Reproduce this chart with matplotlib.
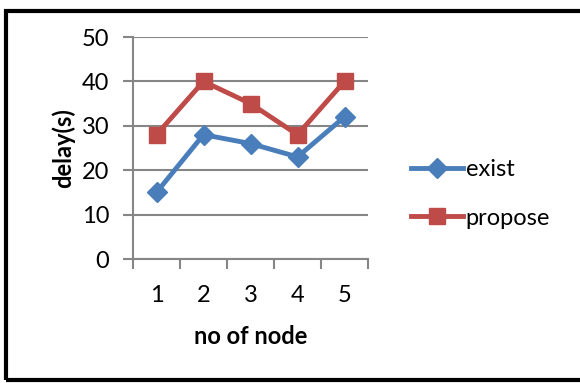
import matplotlib.pyplot as plt
from matplotlib.patches import Rectangle

nodes = ["1", "2", "3", "4", "5"]
exist = [15, 28, 26, 23, 32]
propose = [28, 40, 35, 28, 40]

plt.rcParams["font.family"] = ["Lato", "DejaVu Sans"]

fig = plt.figure(figsize=(5.8, 3.83), dpi=100)
ax = fig.add_axes([133 / 580, 1 - 259 / 383, 235 / 580, 222 / 383])

x = list(range(len(nodes)))
blue = "#4A7EBB"
red = "#BE4B48"
ax.plot(x, exist, color=blue, lw=3.5, marker="D", ms=10, label="exist", zorder=3)
ax.plot(x, propose, color=red, lw=3.5, marker="s", ms=12, label="propose", zorder=3)

grey = "#868686"
ax.set_xlim(-0.5, len(nodes) - 0.5)
ax.set_ylim(0, 50)
ax.set_yticks(range(0, 51, 10))
ax.yaxis.grid(True, color=grey, lw=1.5)
ax.set_axisbelow(True)
for s in ["top", "right"]:
    ax.spines[s].set_visible(False)
for s in ["left", "bottom"]:
    ax.spines[s].set_color(grey)
    ax.spines[s].set_linewidth(1.5)

ax.set_xticks(x)
ax.set_xticklabels(nodes)
ax.set_xticks([i - 0.5 for i in range(len(nodes) + 1)], minor=True)
ax.tick_params(axis="x", which="major", length=0, pad=19, labelsize=17)
ax.tick_params(axis="x", which="minor", length=7, width=1.5, color=grey)
ax.tick_params(axis="y", length=7, width=1.5, color=grey, labelsize=17, pad=10)

ax.set_xlabel("no of node", fontsize=17, fontweight="bold", va="center")
ax.xaxis.set_label_coords(0.5, -0.347)
ax.set_ylabel("delay(s)", fontsize=17, fontweight="bold", va="center")
ax.yaxis.set_label_coords(-0.298, 0.5)

fig.legend(loc="center left", bbox_to_anchor=(402 / 580, 1 - 194 / 383),
           frameon=False, fontsize=17, handlelength=2.2, handletextpad=0.1,
           labelspacing=1.15, borderaxespad=0)

fig.patches.append(Rectangle((6 / 580, 3 / 383), 590 / 580, 369 / 383,
                             transform=fig.transFigure, fill=False,
                             edgecolor="black", lw=3))

fig.savefig("out.png", dpi=100)
